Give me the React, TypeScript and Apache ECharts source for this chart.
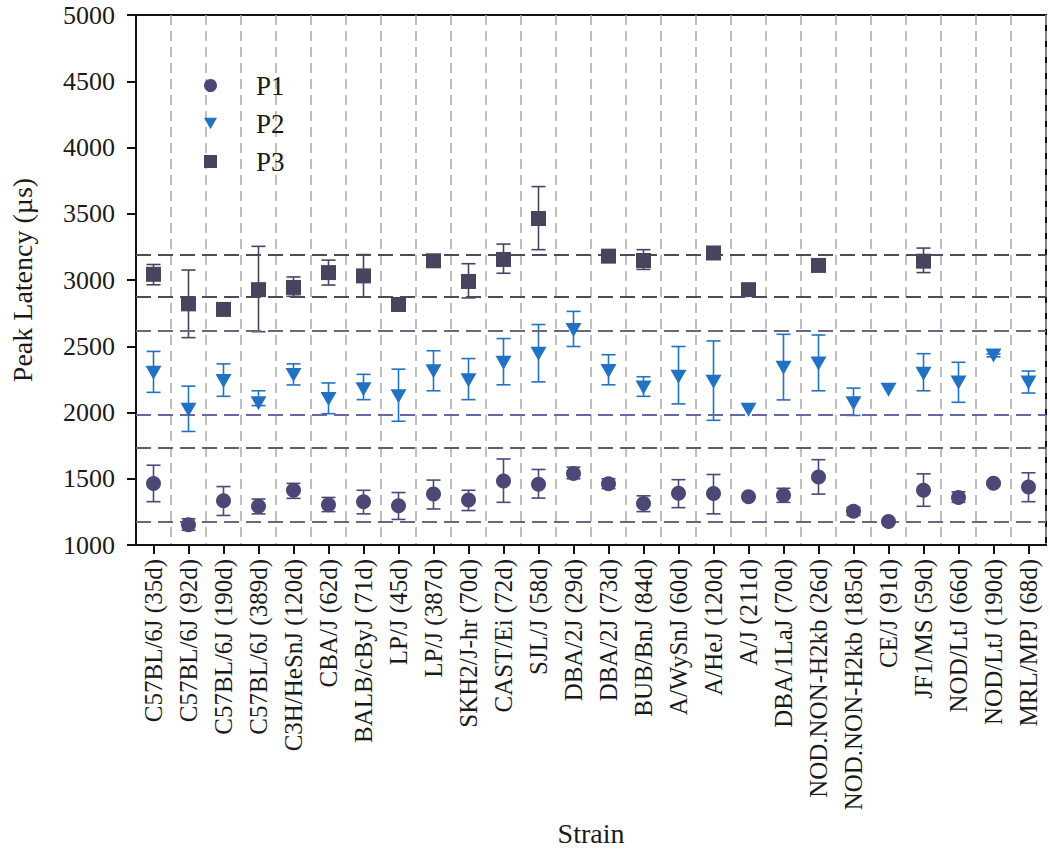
import React, { useEffect, useRef } from "react";
import * as echarts from "echarts";

const categories = [
  "C57BL/6J (35d)", "C57BL/6J (92d)", "C57BL/6J (190d)", "C57BL/6J (389d)",
  "C3H/HeSnJ (120d)", "CBA/J (62d)", "BALB/cByJ (71d)", "LP/J (45d)", "LP/J (387d)",
  "SKH2/J-hr (70d)", "CAST/Ei (72d)", "SJL/J (58d)", "DBA/2J (29d)", "DBA/2J (73d)",
  "BUB/BnJ (84d)", "A/WySnJ (60d)", "A/HeJ (120d)", "A/J (211d)", "DBA/1LaJ (70d)",
  "NOD.NON-H2kb (26d)", "NOD.NON-H2kb (185d)", "CE/J (91d)", "JF1/MS (59d)",
  "NOD/LtJ (66d)", "NOD/LtJ (190d)", "MRL/MPJ (68d)",
];

const p1Mean = [1465, 1153, 1334, 1292, 1413, 1304, 1327, 1297, 1384, 1339, 1483, 1458, 1540, 1463, 1314, 1391, 1389, 1364, 1376, 1513, 1255, 1178, 1413, 1359, 1466, 1438];
const p1Low = [1327, 1111, 1223, 1235, 1352, 1252, 1235, 1193, 1272, 1260, 1322, 1354, 1500, 1426, 1252, 1282, 1235, null, 1322, 1384, 1223, null, 1292, 1322, 1452, 1327];
const p1High = [1602, 1198, 1441, 1347, 1465, 1359, 1413, 1396, 1490, 1413, 1649, 1570, 1587, 1500, 1371, 1493, 1532, null, 1428, 1644, 1285, null, 1537, 1401, 1480, 1545];

const p2Mean = [2300, 2020, 2238, 2070, 2283, 2102, 2176, 2122, 2312, 2243, 2375, 2444, 2622, 2313, 2189, 2270, 2233, 2020, 2337, 2370, 2070, 2171, 2293, 2226, 2431, 2226];
const p2Low = [2152, 1857, 2122, 2052, 2208, 1991, 2097, 1934, 2164, 2097, 2209, 2231, 2498, 2209, 2122, 2065, 1941, null, 2095, 2164, 1978, null, 2164, 2077, 2420, 2147];
const p2High = [2461, 2199, 2367, 2164, 2367, 2223, 2288, 2327, 2466, 2407, 2558, 2664, 2763, 2436, 2270, 2498, 2540, null, 2590, 2585, 2184, null, 2444, 2379, 2442, 2313];

const p3Mean = [3043, 2820, 2778, 2927, 2944, 3056, 3031, 2815, 3145, 2989, 3155, 3464, null, 3180, 3147, null, 3204, 2927, null, 3110, null, null, 3142, null, null, null];
const p3Low = [2964, 2565, null, 2610, 2877, 2962, 2870, null, null, 2865, 3051, 3229, null, 3137, 3080, null, null, null, null, null, null, null, 3056, null, null, null];
const p3High = [3117, 3075, null, 3254, 3023, 3150, 3192, null, null, 3123, 3271, 3705, null, 3222, 3229, null, null, null, null, null, null, null, 3241, null, null, null];

const refLines = [3187, 2877, 2617, 1986, 1736, 1174];
const refColors = ["#4d4a5c", "#4d4a5c", "#6a6780", "#6866a8", "#5f5c74", "#6a6780"];

const yMin = 1000;
const yMax = 5000;
const yInterval = 500;

const FONT = "Liberation Serif";
const C1 = "#4b4777";
const C2 = "#2272c3";
const C3 = "#47445e";

const TRI_DOWN = "path://M0,0 L10,0 L5,8.66 Z";

function errData(lo: (number | null)[], hi: (number | null)[]) {
  const out: number[][] = [];
  lo.forEach((l, i) => {
    const h = hi[i];
    if (l != null && h != null) out.push([i, l, h]);
  });
  return out;
}

function meanData(m: (number | null)[]) {
  return m.map((v) => (v == null ? "-" : v));
}

function errSeries(name: string, color: string, lo: (number | null)[], hi: (number | null)[]) {
  return {
    type: "custom",
    name,
    z: 3,
    data: errData(lo, hi),
    encode: { x: 0, y: [1, 2] },
    renderItem: (params: any, api: any) => {
      const x = api.value(0);
      const a = api.coord([x, api.value(1)]);
      const b = api.coord([x, api.value(2)]);
      const half = 7;
      const st = { stroke: color, lineWidth: 1.6 };
      return {
        type: "group",
        children: [
          { type: "line", shape: { x1: a[0], y1: a[1], x2: b[0], y2: b[1] }, style: st },
          { type: "line", shape: { x1: a[0] - half, y1: a[1], x2: a[0] + half, y2: a[1] }, style: st },
          { type: "line", shape: { x1: b[0] - half, y1: b[1], x2: b[0] + half, y2: b[1] }, style: st },
        ],
      };
    },
  };
}

export default function App() {
  const ref = useRef<HTMLDivElement>(null);
  useEffect(() => {
    document.body.style.margin = "0";
    if (!ref.current) return;
    const chart = echarts.init(ref.current, null, { renderer: "svg" });
    const option: any = {
      animation: false,
      backgroundColor: "#ffffff",
      textStyle: { fontFamily: FONT },
      grid: {
        left: 123,
        right: 4,
        top: 15,
        bottom: 299,
        show: true,
        borderColor: "#111",
        borderWidth: 2,
        backgroundColor: "transparent",
      },
      legend: {
        data: ["P1", "P2", "P3"],
        orient: "vertical",
        left: 199,
        top: 66,
        itemWidth: 13,
        itemHeight: 13,
        itemGap: 9,
        textStyle: { fontFamily: FONT, fontSize: 27, color: "#1a1a1a", padding: [0, 0, 0, 34], lineHeight: 29 },
      },
      xAxis: {
        type: "category",
        data: categories,
        boundaryGap: true,
        name: "Strain",
        nameLocation: "middle",
        nameGap: 274,
        nameTextStyle: { fontFamily: FONT, fontSize: 28, color: "#1a1a1a" },
        axisLine: { show: true, lineStyle: { color: "#111", width: 2 } },
        axisTick: { show: true, alignWithLabel: true, length: 9, lineStyle: { color: "#111", width: 2 } },
        axisLabel: { rotate: 90, fontSize: 25, fontFamily: FONT, color: "#1a1a1a", margin: 14 },
        splitLine: { show: true, lineStyle: { color: "#aaaaaa", type: [10, 6], width: 1.5 } },
      },
      yAxis: {
        type: "value",
        min: yMin,
        max: yMax,
        interval: yInterval,
        name: "Peak Latency (µs)",
        nameLocation: "middle",
        nameGap: 100,
        nameTextStyle: { fontFamily: FONT, fontSize: 28, color: "#1a1a1a" },
        axisLine: { show: true, lineStyle: { color: "#111", width: 2 } },
        axisTick: { show: true, length: 9, lineStyle: { color: "#111", width: 2 } },
        axisLabel: {
          fontSize: 26,
          fontFamily: FONT,
          color: "#1a1a1a",
          margin: 21,
          formatter: (v: number) => String(v),
        },
        splitLine: { show: false },
      },
      series: [
        {
          type: "line",
          name: "ref",
          data: [],
          markLine: {
            silent: true,
            symbol: "none",
            label: { show: false },
            data: refLines.map((v, i) => ({
              yAxis: v,
              lineStyle: { color: refColors[i], type: [15, 7], width: 1.8 },
            })),
          },
        },
        errSeries("e1", C1, p1Low, p1High),
        errSeries("e2", C2, p2Low, p2High),
        errSeries("e3", C3, p3Low, p3High),
        {
          type: "scatter",
          name: "P1",
          z: 5,
          symbol: "circle",
          symbolSize: 15,
          itemStyle: { color: C1, opacity: 1 },
          data: meanData(p1Mean),
        },
        {
          type: "scatter",
          name: "P2",
          z: 5,
          symbol: TRI_DOWN,
          symbolSize: [16, 14],
          itemStyle: { color: C2, opacity: 1 },
          data: meanData(p2Mean),
        },
        {
          type: "scatter",
          name: "P3",
          z: 5,
          symbol: "rect",
          symbolSize: 15,
          itemStyle: { color: C3, opacity: 1 },
          data: meanData(p3Mean),
        },
      ],
    };
    chart.setOption(option);
    return () => chart.dispose();
  }, []);
  return <div ref={ref} style={{ width: 1050, height: 852 }} />;
}
